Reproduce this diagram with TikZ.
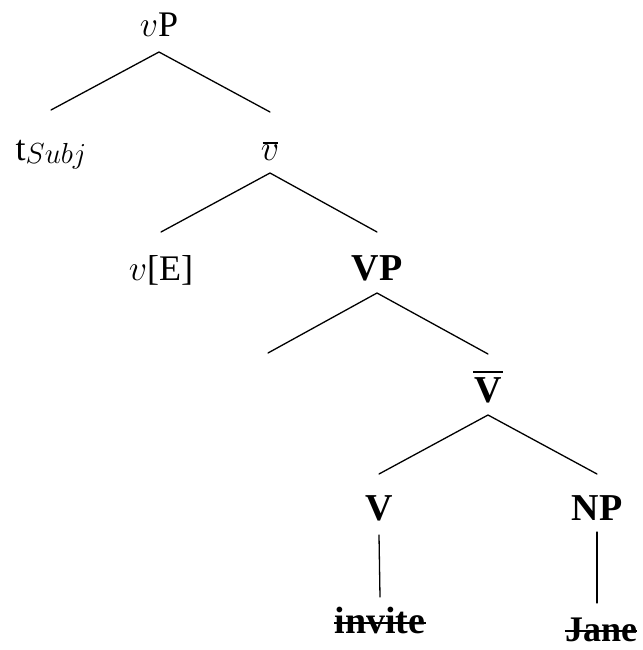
\RequirePackage{fix-cm}
\documentclass[tikz,border=0pt]{standalone}
\usepackage{fontspec}
\setmainfont{Liberation Serif}
\usetikzlibrary{calc}
\tikzset{
  reg/.style={inner sep=0pt, anchor=base, font=\fontsize{36}{38}\selectfont},
  bld/.style={inner sep=0pt, anchor=base, font=\fontsize{38}{40}\selectfont\bfseries},
  branch/.style={line width=1.3pt, line cap=round},
  strike/.style={line width=1.8pt},
  barline/.style={line width=1.6pt}
}
\begin{document}
\begin{tikzpicture}[x=1pt,y=1pt]
\useasboundingbox (0,0) rectangle (642,-650);
% labels
\node[reg] (vP)   at (159,-37)  {$v$P};
\node[reg] (tS)   at (51,-160)  {t\raisebox{-3pt}{\fontsize{29}{31}\selectfont$Subj$}};
\node[reg] (vbar) at (270,-160) {$v$};
\node[reg] (vE)   at (161,-280) {$v$[E]};
\node[bld] (VP)   at (377,-280) {VP};
\node[bld] (Vbar) at (488,-402) {V};
\node[bld] (V)    at (379,-520) {V};
\node[bld] (NP)   at (597,-520) {NP};
\node[bld] (inv)  at (380,-633) {invite};
\node[bld] (jane) at (601,-641) {\fontsize{36}{38}\selectfont Jane};
\coordinate (VPspec) at (268,-353);
% bars
\draw[barline] ([xshift=-7.5pt,yshift=17pt]vbar.base) -- ([xshift=7.5pt,yshift=17pt]vbar.base);
\draw[barline] ([xshift=-15pt,yshift=30pt]Vbar.base) -- ([xshift=15pt,yshift=30pt]Vbar.base);
% branches
\draw[branch] ([yshift=50pt]tS.base) -- ([yshift=-15pt]vP.base) -- ([yshift=48pt]vbar.base);
\draw[branch] ([yshift=48pt]vE.base) -- ([yshift=-13pt]vbar.base) -- ([yshift=48pt]VP.base);
\draw[branch] (VPspec) -- ([yshift=-13pt]VP.base) -- ([yshift=48pt]Vbar.base);
\draw[branch] ([yshift=46pt]V.base) -- ([yshift=-13pt]Vbar.base) -- ([yshift=46pt]NP.base);
\draw[branch] ([yshift=-15pt]V.base) -- ([yshift=36pt]inv.base);
\draw[branch] ([yshift=-12pt]NP.base) -- ($(NP.base |- jane.base)+(0,38pt)$);
% strike-throughs
\draw[strike] ([yshift=10pt]inv.base west) -- ([yshift=10pt]inv.base east);
\draw[strike] ([yshift=10pt]jane.base west) -- ([yshift=10pt]jane.base east);
\end{tikzpicture}
\end{document}
